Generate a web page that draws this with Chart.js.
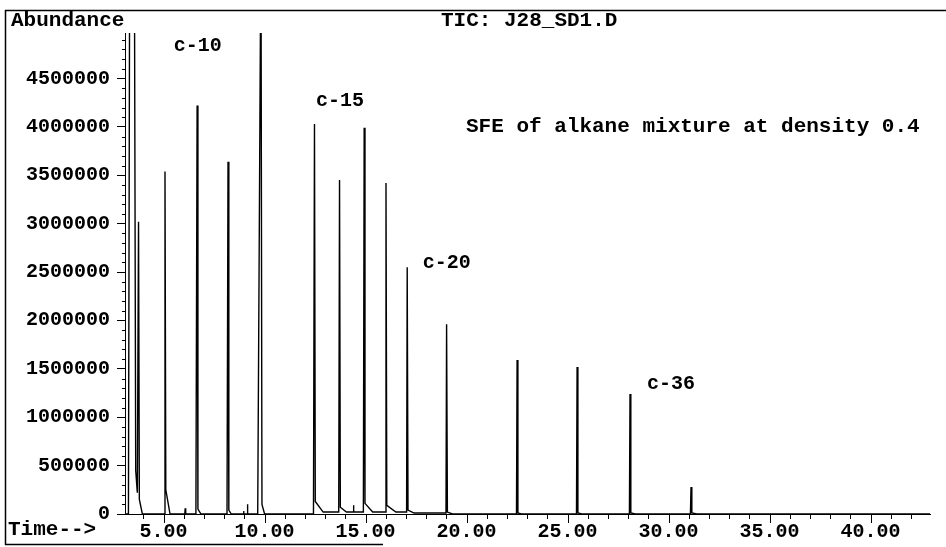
<!DOCTYPE html>
<html><head><meta charset="utf-8">
<script src="https://cdn.jsdelivr.net/npm/chart.js@4/dist/chart.umd.min.js"></script>
<style>html,body{margin:0;padding:0;background:#fff;} #wrap{width:946px;height:547px;position:relative;}</style>
</head><body><div id="wrap"><canvas id="c" width="946" height="547"></canvas></div>
<script>
// Retention time (min) and abundance readings of each peak of the TIC trace
const peakTimes   = [3.43, 3.76, 5.07, 6.07, 6.66, 8.19, 8.96, 9.15, 9.82, 12.47, 13.71, 14.40, 14.93, 16.01, 17.06, 19.01, 22.50, 25.47, 28.09, 31.11];
const peakHeights = [16000000, 3020000, 3540000, 60000, 4220000, 3640000, 30000, 100000, 6000000, 4030000, 3450000, 90000, 3990000, 3420000, 2550000, 1960000, 1590000, 1520000, 1240000, 280000];
const riseStarts  = [3.26, 3.72, 5.03, 6.05, 6.60, 8.14, 8.94, 9.13, 9.66, 12.42, 13.67, 14.38, 14.89, 15.97, 17.03, 18.98, 22.47, 25.44, 28.06, 31.08];
const startLevels = [0, 220000, 0, 0, 0, 0, 0, 0, 0, 0, 20000, 20000, 20000, 20000, 20000, 10000, 0, 0, 0, 0];
const tailTimes   = [3.62, 3.80, 5.11, 6.09, 6.70, 8.23, 8.98, 9.17, 9.87, 12.51, 13.75, 14.42, 14.97, 16.05, 17.10, 19.05, 22.54, 25.51, 28.13, 31.15];
const tailLevels  = [450000, 150000, 250000, 0, 50000, 40000, 0, 0, 100000, 130000, 70000, 20000, 110000, 90000, 40000, 20000, 10000, 10000, 10000, 10000];
const tailEnds    = [3.70, 3.95, 5.32, 6.10, 6.85, 8.35, 8.99, 9.18, 10.00, 12.90, 14.05, 14.44, 15.35, 16.50, 17.40, 19.30, 22.70, 25.70, 28.35, 31.40];
const endLevels   = [220000, 0, 0, 0, 0, 0, 0, 0, 0, 20000, 20000, 20000, 20000, 20000, 10000, 0, 0, 0, 0, 0];
const timeRange   = [3.09, 42.94];
const abundanceMax = 4970000;
const yTickValues = [0, 500000, 1000000, 1500000, 2000000, 2500000, 3000000, 3500000, 4000000, 4500000];
const xTickValues = [5, 10, 15, 20, 25, 30, 35, 40];
const yMinorStep = 100000, xMinorStep = 1;
const peakLabels = [
  {text: "c-10", x: 5.5,  y: 4840000},
  {text: "c-15", x: 12.55, y: 4270000},
  {text: "c-20", x: 17.83, y: 2590000},
  {text: "c-36", x: 28.93, y: 1340000}
];

const trace = [{x: timeRange[0], y: 0}];
for (let i = 0; i < peakTimes.length; i++) {
  trace.push({x: riseStarts[i], y: startLevels[i]});
  trace.push({x: peakTimes[i], y: peakHeights[i]});
  trace.push({x: tailTimes[i], y: tailLevels[i]});
  trace.push({x: tailEnds[i], y: endLevels[i]});
}
trace.push({x: timeRange[1], y: 0});

const FONT = "'Liberation Mono', 'Courier New', monospace";

const decor = {
  id: 'decor',
  afterDraw(chart) {
    const ctx = chart.ctx, xs = chart.scales.x, ys = chart.scales.y;
    ctx.save();
    ctx.strokeStyle = '#000';
    ctx.lineWidth = 1;
    ctx.beginPath();
    // x ticks (major long, minor short), pointing down
    for (let t = Math.ceil(xs.min); t <= xs.max; t += xMinorStep) {
      const major = xTickValues.includes(t);
      const px = Math.round(xs.getPixelForValue(t)) + 0.5;
      ctx.moveTo(px, xs.top); ctx.lineTo(px, xs.top + (major ? 9 : 5));
    }
    // y minor ticks
    for (let v = 0; v <= ys.max; v += yMinorStep) {
      if (yTickValues.includes(v)) continue;
      const py = Math.round(ys.getPixelForValue(v)) + 0.5;
      ctx.moveTo(ys.right, py); ctx.lineTo(ys.right - 3, py);
    }
    ctx.stroke();
    // frame
    ctx.lineWidth = 1.5;
    ctx.beginPath();
    ctx.moveTo(5, 10.5); ctx.lineTo(946, 10.5);
    ctx.moveTo(5.5, 10); ctx.lineTo(5.5, 545);
    ctx.moveTo(5, 544.5); ctx.lineTo(383, 544.5);
    ctx.stroke();
    // texts
    ctx.fillStyle = '#000';
    ctx.textBaseline = 'middle';
    ctx.textAlign = 'left';
    ctx.font = "bold 21px " + FONT;
    ctx.fillText("Abundance", 11, 21);
    ctx.fillText("TIC: J28_SD1.D", 441, 21);
    ctx.fillText("SFE of alkane mixture at density 0.4", 466, 127);
    ctx.fillText("Time-->", 8, 530);
    ctx.font = "bold 20px " + FONT;
    for (const l of peakLabels) {
      ctx.fillText(l.text, xs.getPixelForValue(l.x), ys.getPixelForValue(l.y));
    }
    ctx.restore();
  }
};

new Chart(document.getElementById('c'), {
  type: 'line',
  data: { datasets: [{ data: trace, borderColor: '#000', borderWidth: 1.4, pointRadius: 0, tension: 0, fill: false }] },
  options: {
    responsive: false, animation: false,
    layout: { padding: { top: 33, right: 16, left: 0, bottom: 0 } },
    plugins: { legend: { display: false }, tooltip: { enabled: false } },
    scales: {
      x: {
        type: 'linear', min: timeRange[0], max: timeRange[1],
        border: { display: true, color: '#000', width: 1 },
        grid: { drawOnChartArea: false, drawTicks: false },
        afterBuildTicks: s => { s.ticks = xTickValues.map(v => ({value: v})); },
        ticks: { color: '#000', padding: 6,
          font: { family: FONT, size: 20, weight: 'bold' }, maxRotation: 0, autoSkip: false,
          callback: v => Number(v).toFixed(2) },
        afterFit: s => { s.height = 33; }
      },
      y: {
        min: 0, max: abundanceMax,
        border: { display: true, color: '#000', width: 1 },
        grid: { drawOnChartArea: false, drawTicks: true, tickLength: 8, color: '#000' },
        afterBuildTicks: s => { s.ticks = yTickValues.map(v => ({value: v})); },
        ticks: { color: '#000', padding: 7,
          font: { family: FONT, size: 20, weight: 'bold' }, autoSkip: false,
          callback: v => String(v) },
        afterFit: s => { s.width = 125; }
      }
    }
  },
  plugins: [decor]
});
</script></body></html>
